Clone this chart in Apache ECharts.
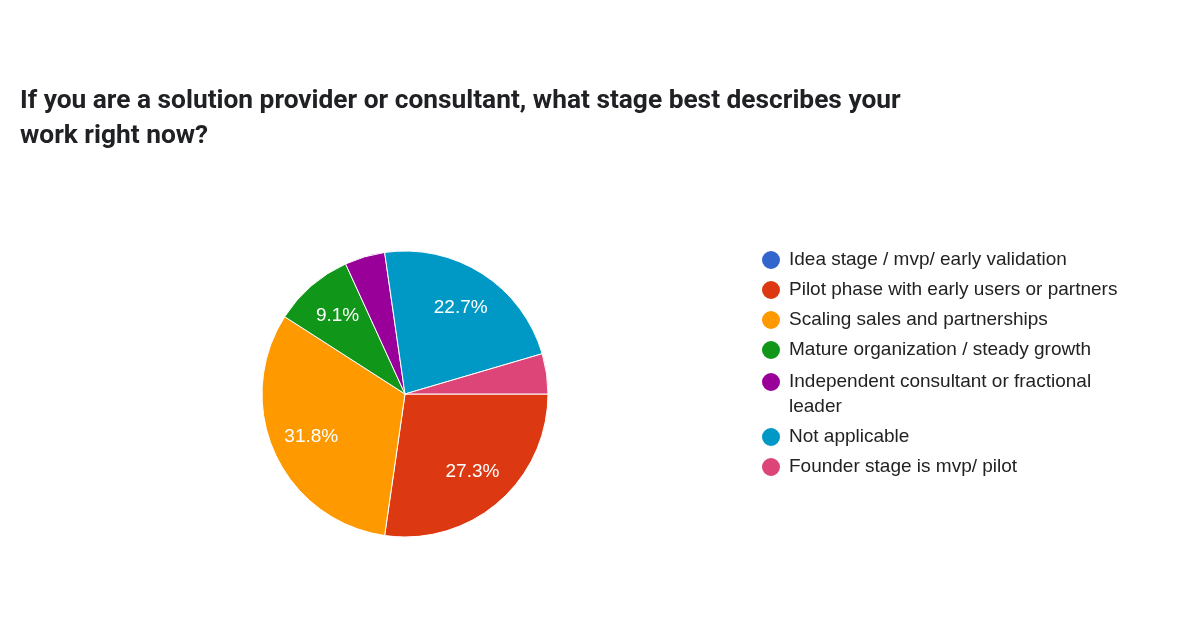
<!DOCTYPE html>
<html lang="en">
<head>
    <meta charset="UTF-8">
    <title>Solution provider stage</title>
    <script src="https://cdn.jsdelivr.net/npm/echarts/dist/echarts.min.js"></script>
    <style>
        body { margin: 0; background: #fff; }
        #chart { width: 1191px; height: 632px; }
    </style>
</head>
<body>
    <div id="chart"></div>
    <script>
        // answers and response counts (22 responses)
        const stages = [
            'Idea stage / mvp/ early validation',
            'Pilot phase with early users or partners',
            'Scaling sales and partnerships',
            'Mature organization / steady growth',
            'Independent consultant or fractional leader',
            'Not applicable',
            'Founder stage is mvp/ pilot'
        ];
        const counts = [0, 6, 7, 2, 1, 5, 1];
        const colors = ['#3366cc', '#dc3912', '#ff9900', '#109618', '#990099', '#0099c6', '#dd4477'];

        const chart = echarts.init(document.getElementById('chart'));
        const pieData = stages.map((s, i) => ({ name: s, value: counts[i] }));

        const legendBase = {
            orient: 'vertical',
            left: 760,
            padding: 0,
            itemGap: 5,
            itemWidth: 20,
            itemHeight: 20,
            icon: 'circle',
            selectedMode: false,
            textStyle: {
                fontFamily: "'Liberation Sans', Arial, sans-serif",
                fontSize: 19,
                color: '#222',
                lineHeight: 25,
                width: 345,
                overflow: 'break',
                padding: [0, 0, 0, 3]
            }
        };

        chart.setOption({
            color: colors,
            animation: false,
            title: {
                text: 'If you are a solution provider or consultant, what stage best describes your\nwork right now?',
                left: 20,
                top: 84,
                padding: 0,
                textStyle: {
                    fontFamily: 'Roboto, sans-serif',
                    fontWeight: 'bold',
                    fontSize: 26.3,
                    lineHeight: 35,
                    color: '#202124'
                }
            },
            legend: [
                Object.assign({}, legendBase, {
                    top: 247.5,
                    data: stages.slice(0, 4)
                }),
                Object.assign({}, legendBase, {
                    top: 344.5,
                    // blank line above the wrapped item keeps its first line level with the dot
                    formatter: name => (name === stages[4] ? '\n' + name : name),
                    data: stages.slice(4)
                })
            ],
            series: [
                {
                    type: 'pie',
                    center: [405, 394],
                    radius: [0, 143],
                    startAngle: 0,
                    clockwise: true,
                    avoidLabelOverlap: false,
                    percentPrecision: 1,
                    itemStyle: { borderColor: '#fff', borderWidth: 1 },
                    label: { show: false },
                    labelLine: { show: false },
                    emphasis: { disabled: true },
                    data: pieData
                },
                {
                    // transparent copy to place percentage labels further out
                    type: 'pie',
                    center: [405, 394],
                    radius: [0, 200],
                    startAngle: 0,
                    clockwise: true,
                    silent: true,
                    avoidLabelOverlap: false,
                    percentPrecision: 1,
                    minShowLabelAngle: 20,
                    itemStyle: { color: 'rgba(0,0,0,0)', borderWidth: 0 },
                    label: {
                        show: true,
                        position: 'inside',
                        formatter: '{d}%',
                        color: '#fff',
                        fontFamily: "'Liberation Sans', Arial, sans-serif",
                        fontSize: 19
                    },
                    labelLine: { show: false },
                    emphasis: { disabled: true },
                    data: pieData
                }
            ]
        });
    </script>
</body>
</html>
